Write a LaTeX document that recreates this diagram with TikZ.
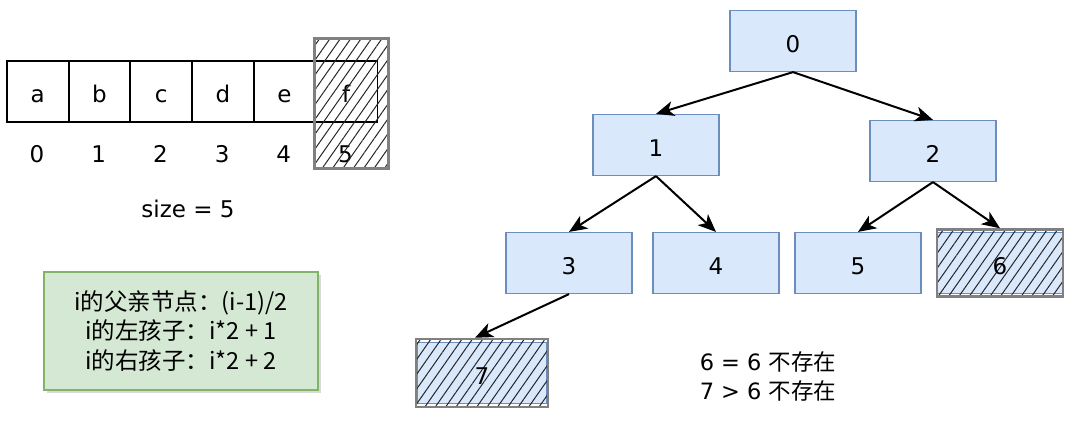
\documentclass[tikz,border=0pt]{standalone}
\usepackage{fontspec}
\setmainfont{DejaVu Sans}
\newfontfamily\cjk{Noto Sans CJK SC}
\usetikzlibrary{patterns.meta,shadows,arrows.meta}
\definecolor{bluefill}{HTML}{DAE8FC}
\definecolor{blueline}{HTML}{6C8EBF}
\definecolor{greenfill}{HTML}{D5E8D4}
\definecolor{greenline}{HTML}{82B366}
\definecolor{hatchgray}{HTML}{808080}
\tikzset{
  txt/.style={font=\fontsize{23}{28}\selectfont, inner sep=0pt, text height=22pt, text depth=0pt},
  cell/.style={draw=black, line width=1.5pt, minimum width=62pt, minimum height=61pt, anchor=north west, txt},
  tnode/.style={draw=blueline, fill=bluefill, line width=1.2pt, minimum width=126pt, minimum height=61pt, txt},
  hatched/.style={pattern={Lines[angle=55,distance=8.5pt,line width=1pt]}, pattern color=black!85},
  hatchborder/.style={draw=hatchgray, line width=2.5pt},
  arr/.style={-{Stealth[length=18pt,width=15pt,inset=5pt]}, line width=2pt},
}
\begin{document}
\begin{tikzpicture}[x=1pt,y=-1pt]
\useasboundingbox (0,0) rectangle (1073,421);
% array
\foreach \l/\i in {a/0,b/1,c/2,d/3,e/4,f/5}{
  \node[cell] (c\i) at (6+61.7*\i,60) {\l};
  \node[txt] (i\i) at (37+61.7*\i,151) {\i};
}
\node[hatchborder, hatched, minimum width=74pt, minimum height=130pt, anchor=north west, inner sep=0pt] (hz) at (314,38) {};
\node[txt] (size) at (188,206) {size = 5};
% green note
\node[draw=greenline, fill=greenfill, line width=1.2pt, minimum width=274pt, minimum height=118pt,
  drop shadow={opacity=0.3, shadow xshift=3pt, shadow yshift=-3pt}, align=center,
  font=\cjk\fontsize{23.5}{29.5}\selectfont] (note) at (181,331)
  {i的父亲节点：(i-1)/2\\i的左孩子：i*2 + 1\\i的右孩子：i*2 + 2};
% tree
\node[tnode] (n0) at (793,41) {0};
\node[tnode] (n1) at (656,145) {1};
\node[tnode] (n2) at (933,151) {2};
\node[tnode] (n3) at (569,263) {3};
\node[tnode] (n4) at (716,263) {4};
\node[tnode] (n5) at (858,263) {5};
\node[tnode] (n6) at (1000,263) {};
\node[hatchborder, hatched, minimum width=126pt, minimum height=67pt, inner sep=0pt] (h6) at (1000,263) {};
\node[txt] at (n6) {6};
\node[tnode, minimum width=130pt] (n7) at (482,373) {};
\node[hatchborder, hatched, minimum width=132pt, minimum height=68pt, inner sep=0pt] (h7) at (482,373) {};
\node[txt] at (n7) {7};
\draw[arr] (n0.south) -- (n1.north);
\draw[arr] (n0.south) -- (n2.north);
\draw[arr] (n1.south) -- (n3.north);
\draw[arr] (n1.south) -- (n4.north);
\draw[arr] (n2.south) -- (n5.north);
\draw[arr] (n2.south) -- (h6.north);
\draw[arr] (n3.south) -- ([xshift=-7pt]h7.north);
\node[align=left, inner sep=0pt, font=\fontsize{22.5}{29}\selectfont] (cmt) at (768,376) {6 = 6 {\cjk 不存在}\\7 > 6 {\cjk 不存在}};
\end{tikzpicture}
\end{document}
